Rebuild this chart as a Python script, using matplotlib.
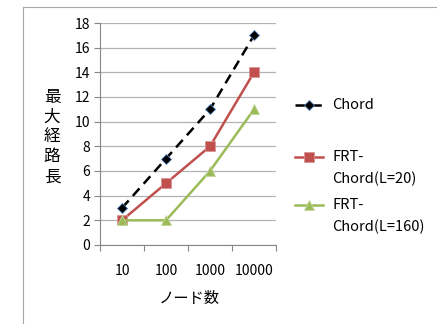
import matplotlib
matplotlib.use("Agg")
import matplotlib.pyplot as plt
from matplotlib.lines import Line2D

# データ
nodes = ["10", "100", "1000", "10000"]
chord = [3, 7, 11, 17]
frt_l20 = [2, 5, 8, 14]
frt_l160 = [2, 2, 6, 11]
y_ticks = [0, 2, 4, 6, 8, 10, 12, 14, 16, 18]

plt.rcParams['font.family'] = ['Noto Sans CJK JP', 'DejaVu Sans']

fig = plt.figure(figsize=(4.37, 3.24), dpi=100)
fig.patch.set_facecolor("white")

# 外枠 (右と下ははみ出している)
W, H = 437, 324
fig.add_artist(Line2D([23 / W, 23 / W], [1 - 7 / H, 0], color="#a6a6a6", lw=0.8))
fig.add_artist(Line2D([23 / W, 1], [1 - 7 / H, 1 - 7 / H], color="#a6a6a6", lw=0.8))

ax = fig.add_axes([100 / W, 1 - 245 / H, 176 / W, 222 / H])
x = list(range(len(nodes)))

styles = [
    dict(color="black", ls=(0, (4, 2.5)), lw=1.8),
    dict(color="#c0504d", lw=1.8),
    dict(color="#9bbb59", lw=1.8),
]
markers = [
    dict(marker="D", ms=5, mfc="black", mec="#4f81bd", mew=0.6),
    dict(marker="s", ms=7, mfc="#c0504d", mec="#d99694", mew=0.6),
    dict(marker="^", ms=7, mfc="#9bbb59", mec="#c3d69b", mew=0.6),
]

for vals, st, mk, z in zip([chord, frt_l20, frt_l160], styles, markers, [4, 3, 3]):
    ax.plot(x, vals, zorder=z, **st, **mk)

ax.set_xlim(-0.5, len(nodes) - 0.5)
ax.set_ylim(0, 18)
ax.set_yticks(y_ticks)
ax.set_xticks(x)
ax.set_xticklabels(nodes)
ax.set_xticks([i - 0.5 for i in range(len(nodes) + 1)], minor=True)
ax.tick_params(axis="x", which="major", length=0, pad=14, labelsize=10)
ax.tick_params(axis="x", which="minor", length=4, color="#868686", width=0.8)
ax.tick_params(axis="y", length=4, color="#868686", width=0.8, pad=3, labelsize=10)

ax.grid(axis="y", color="#b3b3b3", lw=0.9)
ax.set_axisbelow(True)
for s in ["top", "right"]:
    ax.spines[s].set_visible(False)
for s in ["left", "bottom"]:
    ax.spines[s].set_color("#868686")
    ax.spines[s].set_linewidth(0.8)

# 軸ラベル
fig.text(52 / W, 1 - 137 / H, "最\n大\n経\n路\n長", ha="center", va="center",
         fontsize=12, linespacing=1.22)
fig.text(189 / W, 1 - 298 / H, "ノード数", ha="center", va="center", fontsize=11)

# 凡例
def legend_item(y, st, mk, lines_txt):
    yy = 1 - y / H
    fig.add_artist(Line2D([295 / W, 323 / W], [yy, yy], **st))
    fig.add_artist(Line2D([309 / W], [yy], ls="none", **mk))
    for i, t in enumerate(lines_txt):
        fig.text(332 / W, 1 - (y + i * 22) / H, t, ha="left", va="center", fontsize=10.5)

legend_item(105, styles[0], markers[0], ["Chord"])
legend_item(157, styles[1], markers[1], ["FRT-", "Chord(L=20)"])
legend_item(205, styles[2], markers[2], ["FRT-", "Chord(L=160)"])

fig.savefig("out.png", dpi=100)
